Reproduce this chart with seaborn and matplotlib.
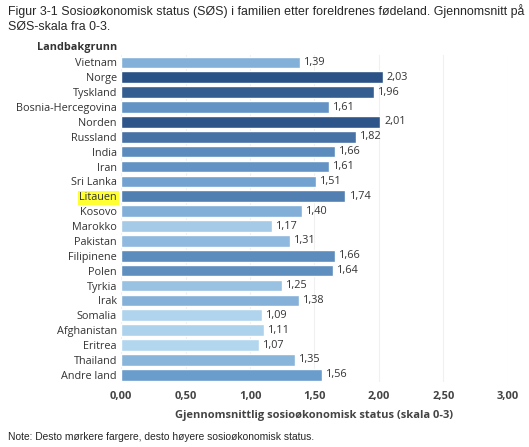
import numpy as np
import pandas as pd
import matplotlib
matplotlib.use("Agg")
import matplotlib.pyplot as plt
import seaborn as sns
from matplotlib.colors import LinearSegmentedColormap

# Data
countries = ["Vietnam", "Norge", "Tyskland", "Bosnia-Hercegovina", "Norden", "Russland",
             "India", "Iran", "Sri Lanka", "Litauen", "Kosovo", "Marokko", "Pakistan",
             "Filipinene", "Polen", "Tyrkia", "Irak", "Somalia", "Afghanistan", "Eritrea",
             "Thailand", "Andre land"]
values = [1.39, 2.03, 1.96, 1.61, 2.01, 1.82, 1.66, 1.61, 1.51, 1.74, 1.40, 1.17, 1.31,
          1.66, 1.64, 1.25, 1.38, 1.09, 1.11, 1.07, 1.35, 1.56]
highlight = "Litauen"
xticks = [0, 0.5, 1.0, 1.5, 2.0, 2.5, 3.0]

df = pd.DataFrame({"land": countries, "sos": values})

sns.set_style("white")
plt.rcParams["font.family"] = ["Open Sans", "DejaVu Sans"]

# darker colour = higher status
cmap = LinearSegmentedColormap.from_list("sos", ["#b3d6ef", "#6b9dcd", "#2b5286"])
vmin, vmax = min(values), max(values)
palette = [cmap((v - vmin) / (vmax - vmin)) for v in values]

fig = plt.figure(figsize=(5.29, 4.47), dpi=100)
ax = fig.add_axes([0.229, 0.145, 0.731, 0.732])

sns.barplot(data=df, x="sos", y="land", hue="land", palette=palette, legend=False,
            orient="h", width=0.78, saturation=1, ax=ax)

ax.set_xlim(0, 3.0)
ax.set_xticks(xticks)
ax.set_xticklabels([f"{t:.2f}".replace(".", ",") for t in xticks],
                   fontsize=8, fontweight="bold", color="#444444")
ax.grid(axis="x", color="#f0f0f0", linewidth=0.8)
ax.set_axisbelow(True)
for s in ax.spines.values():
    s.set_visible(False)
ax.tick_params(axis="both", length=0, pad=3)
ax.tick_params(axis="x", pad=6)
ax.set_yticks(range(len(countries)))
ax.set_yticklabels(countries, fontsize=7.8, color="#333333")
for lab in ax.get_yticklabels():
    if lab.get_text() == highlight:
        lab.set_bbox(dict(facecolor="#ffff33", edgecolor="none", pad=1.2))

for cont, v in zip(ax.containers, values):
    ax.bar_label(cont, labels=[f"{v:.2f}".replace(".", ",")], padding=3,
                 fontsize=7.8, color="#333333")

ax.set_ylabel("")
ax.set_xlabel("Gjennomsnittlig sosioøkonomisk status (skala 0-3)",
              fontsize=8, fontweight="bold", color="#444444", labelpad=6)
ax.text(-0.01, 1.005, "Landbakgrunn", transform=ax.transAxes, ha="right", va="bottom",
        fontsize=7.8, fontweight="bold", color="#333333")

fig.text(0.015, 0.99, "Figur 3-1 Sosioøkonomisk status (SØS) i familien etter foreldrenes fødeland. Gjennomsnitt på\nSØS-skala fra 0-3.",
         ha="left", va="top", fontsize=8.9, family=["Liberation Sans", "DejaVu Sans"],
         linespacing=1.25)
fig.text(0.015, 0.012, "Note: Desto mørkere fargere, desto høyere sosioøkonomisk status.",
         ha="left", va="bottom", fontsize=7.4, family=["Liberation Sans", "DejaVu Sans"])

fig.savefig("out.png", dpi=100)
